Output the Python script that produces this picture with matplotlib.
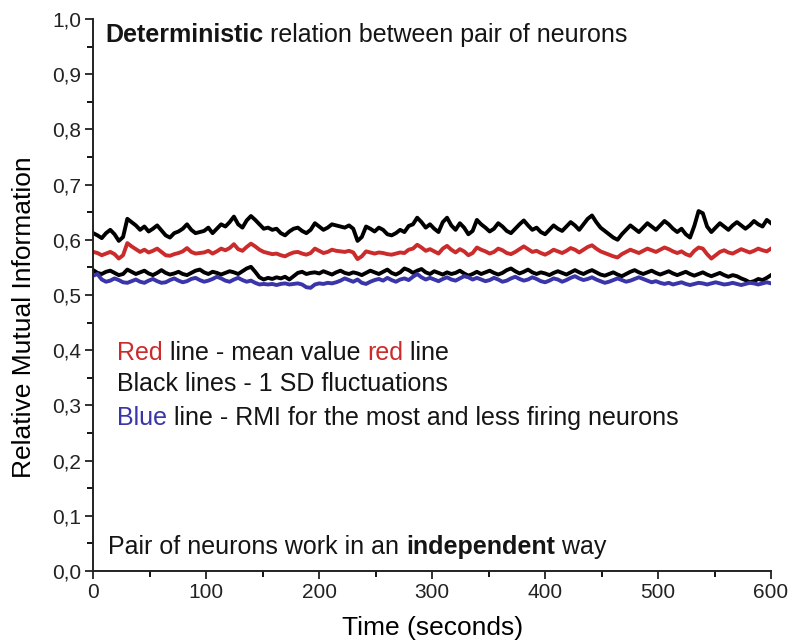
import numpy as np
import matplotlib.pyplot as plt
from matplotlib.ticker import MultipleLocator

# one reading every ~3.8 s over the 600 s recording
time_s = np.linspace(0, 600, 160)

upper_sd = [0.612, 0.608, 0.603, 0.612, 0.618, 0.610, 0.598, 0.605, 0.638, 0.632,
            0.626, 0.618, 0.624, 0.615, 0.620, 0.626, 0.617, 0.608, 0.604, 0.612,
            0.615, 0.620, 0.628, 0.618, 0.612, 0.614, 0.616, 0.622, 0.612, 0.620,
            0.628, 0.624, 0.632, 0.642, 0.628, 0.622, 0.635, 0.643, 0.636, 0.628,
            0.620, 0.622, 0.618, 0.620, 0.612, 0.608, 0.615, 0.620, 0.622, 0.616,
            0.612, 0.618, 0.630, 0.624, 0.618, 0.622, 0.628, 0.626, 0.624, 0.622,
            0.626, 0.620, 0.598, 0.605, 0.624, 0.620, 0.615, 0.622, 0.618, 0.610,
            0.608, 0.612, 0.618, 0.614, 0.625, 0.628, 0.640, 0.632, 0.622, 0.628,
            0.620, 0.614, 0.632, 0.640, 0.626, 0.618, 0.630, 0.622, 0.610, 0.616,
            0.636, 0.628, 0.622, 0.615, 0.620, 0.630, 0.624, 0.616, 0.612, 0.620,
            0.628, 0.635, 0.626, 0.618, 0.622, 0.614, 0.610, 0.618, 0.626, 0.620,
            0.616, 0.624, 0.632, 0.626, 0.618, 0.628, 0.638, 0.644, 0.632, 0.622,
            0.616, 0.610, 0.604, 0.600, 0.610, 0.618, 0.626, 0.620, 0.614, 0.622,
            0.630, 0.624, 0.618, 0.626, 0.634, 0.628, 0.620, 0.614, 0.620, 0.610,
            0.604, 0.625, 0.652, 0.648, 0.624, 0.614, 0.622, 0.630, 0.624, 0.618,
            0.626, 0.632, 0.626, 0.620, 0.626, 0.634, 0.628, 0.624, 0.636, 0.630]

mean_red = [0.578, 0.576, 0.572, 0.575, 0.578, 0.574, 0.566, 0.572, 0.594, 0.588,
            0.583, 0.578, 0.582, 0.577, 0.580, 0.584, 0.578, 0.572, 0.571, 0.574,
            0.576, 0.579, 0.585, 0.578, 0.575, 0.576, 0.577, 0.580, 0.575, 0.579,
            0.584, 0.581, 0.585, 0.592, 0.583, 0.580, 0.587, 0.593, 0.588, 0.582,
            0.578, 0.576, 0.574, 0.575, 0.572, 0.570, 0.574, 0.577, 0.578, 0.575,
            0.573, 0.576, 0.584, 0.580, 0.576, 0.578, 0.582, 0.580, 0.579, 0.578,
            0.580, 0.577, 0.565, 0.570, 0.579, 0.577, 0.575, 0.577, 0.576, 0.574,
            0.573, 0.575, 0.577, 0.576, 0.582, 0.584, 0.591, 0.586, 0.580, 0.583,
            0.579, 0.575, 0.584, 0.589, 0.582, 0.577, 0.583, 0.579, 0.572, 0.576,
            0.586, 0.582, 0.579, 0.575, 0.578, 0.584, 0.581, 0.576, 0.574, 0.578,
            0.583, 0.588, 0.583, 0.578, 0.580, 0.576, 0.573, 0.577, 0.582, 0.579,
            0.576, 0.580, 0.585, 0.582, 0.577, 0.582, 0.587, 0.590, 0.584, 0.579,
            0.576, 0.573, 0.570, 0.568, 0.574, 0.578, 0.582, 0.579, 0.576, 0.580,
            0.584, 0.581, 0.578, 0.582, 0.586, 0.583, 0.579, 0.576, 0.579, 0.574,
            0.571, 0.580, 0.586, 0.584, 0.574, 0.566, 0.572, 0.578, 0.581, 0.577,
            0.575, 0.579, 0.583, 0.580, 0.577, 0.580, 0.584, 0.581, 0.579, 0.584]

lower_sd = [0.545, 0.540, 0.538, 0.542, 0.544, 0.540, 0.536, 0.538, 0.546, 0.542,
            0.538, 0.541, 0.544, 0.539, 0.536, 0.540, 0.545, 0.540, 0.537, 0.539,
            0.542, 0.538, 0.536, 0.540, 0.544, 0.546, 0.541, 0.538, 0.542, 0.540,
            0.537, 0.540, 0.543, 0.541, 0.538, 0.543, 0.548, 0.551, 0.542, 0.532,
            0.528, 0.531, 0.529, 0.532, 0.530, 0.533, 0.528, 0.534, 0.540, 0.542,
            0.538, 0.540, 0.541, 0.539, 0.543, 0.540, 0.537, 0.541, 0.544, 0.540,
            0.538, 0.541, 0.539, 0.536, 0.540, 0.544, 0.541, 0.538, 0.542, 0.546,
            0.540, 0.537, 0.541, 0.548, 0.545, 0.540, 0.544, 0.547, 0.541, 0.538,
            0.543, 0.540, 0.537, 0.541, 0.538, 0.540, 0.544, 0.539, 0.535, 0.538,
            0.542, 0.538, 0.541, 0.544, 0.540, 0.537, 0.540, 0.545, 0.548, 0.543,
            0.539, 0.542, 0.546, 0.541, 0.538, 0.541, 0.539, 0.536, 0.540, 0.543,
            0.540, 0.537, 0.541, 0.545, 0.541, 0.538, 0.542, 0.545, 0.541, 0.537,
            0.535, 0.538, 0.541, 0.537, 0.534, 0.538, 0.542, 0.545, 0.541, 0.538,
            0.541, 0.544, 0.540, 0.537, 0.540, 0.543, 0.539, 0.536, 0.539, 0.542,
            0.538, 0.535, 0.538, 0.541, 0.537, 0.534, 0.537, 0.540, 0.536, 0.533,
            0.536, 0.534, 0.530, 0.527, 0.523, 0.525, 0.529, 0.527, 0.531, 0.536]

rmi_blue = [0.535, 0.538, 0.528, 0.524, 0.526, 0.530, 0.527, 0.523, 0.522, 0.525,
            0.528, 0.524, 0.522, 0.526, 0.529, 0.525, 0.522, 0.523, 0.527, 0.530,
            0.526, 0.523, 0.525, 0.529, 0.531, 0.527, 0.524, 0.526, 0.529, 0.533,
            0.530, 0.526, 0.524, 0.528, 0.531, 0.527, 0.524, 0.526, 0.522, 0.519,
            0.520, 0.519, 0.520, 0.518, 0.520, 0.521, 0.519, 0.520, 0.521, 0.519,
            0.514, 0.513, 0.519, 0.521, 0.520, 0.522, 0.521, 0.523, 0.526, 0.530,
            0.527, 0.524, 0.528, 0.522, 0.520, 0.524, 0.527, 0.529, 0.526, 0.531,
            0.527, 0.524, 0.528, 0.530, 0.527, 0.533, 0.538, 0.532, 0.528, 0.531,
            0.528, 0.525, 0.529, 0.532, 0.528, 0.526, 0.530, 0.534, 0.532, 0.528,
            0.531, 0.528, 0.525, 0.527, 0.531, 0.528, 0.524, 0.526, 0.530, 0.533,
            0.529, 0.526, 0.528, 0.532, 0.529, 0.525, 0.523, 0.526, 0.530, 0.528,
            0.524, 0.527, 0.531, 0.534, 0.530, 0.527, 0.529, 0.532, 0.528, 0.525,
            0.522, 0.524, 0.527, 0.530, 0.527, 0.524, 0.526, 0.529, 0.532, 0.529,
            0.526, 0.523, 0.525, 0.522, 0.520, 0.522, 0.519, 0.521, 0.523, 0.520,
            0.518, 0.520, 0.522, 0.521, 0.519, 0.521, 0.523, 0.521, 0.519, 0.520,
            0.522, 0.520, 0.518, 0.520, 0.522, 0.521, 0.519, 0.521, 0.523, 0.521]

x_ticks = [0, 100, 200, 300, 400, 500, 600]
y_ticks = [0.0, 0.1, 0.2, 0.3, 0.4, 0.5, 0.6, 0.7, 0.8, 0.9, 1.0]
y_tick_labels = ['0,0', '0,1', '0,2', '0,3', '0,4', '0,5', '0,6', '0,7', '0,8', '0,9', '1,0']

RED = '#cc2b2b'
BLUE = '#3a35a8'
INK = '#151515'
plt.rcParams['font.family'] = ['Liberation Sans Narrow', 'Liberation Sans', 'DejaVu Sans']

fig = plt.figure(figsize=(7.9, 6.43), dpi=100)
ax = fig.add_axes([0.118, 0.112, 0.858, 0.8585])

ax.plot(time_s, upper_sd, color='black', lw=2.8)
ax.plot(time_s, mean_red, color=RED, lw=2.8)
ax.plot(time_s, lower_sd, color='black', lw=2.8)
ax.plot(time_s, rmi_blue, color=BLUE, lw=2.8)

ax.set_xlim(0, 600)
ax.set_ylim(0, 1.0)
ax.set_xticks(x_ticks)
ax.set_yticks(y_ticks)
ax.set_yticklabels(y_tick_labels)
ax.xaxis.set_minor_locator(MultipleLocator(50))
ax.yaxis.set_minor_locator(MultipleLocator(0.05))
ax.tick_params(which='major', direction='out', length=6, width=1.3, labelsize=15,
               colors='#222222', pad=2.5)
ax.tick_params(which='minor', direction='out', length=4, width=1.3)
for side in ['top', 'right']:
    ax.spines[side].set_visible(False)
for side in ['left', 'bottom']:
    ax.spines[side].set_linewidth(1.4)
    ax.spines[side].set_color('#222222')

ax.set_xlabel('Time (seconds)', fontsize=19, labelpad=10)
ax.set_ylabel('Relative Mutual Information', fontsize=19)
ax.yaxis.set_label_coords(-0.085, 0.46)


def rich_line(x, y, parts, size):
    # parts: (text, colour, weight); each piece is chained to the end of the previous one
    prev = None
    for txt, col, wt in parts:
        if prev is None:
            prev = ax.text(x, y, txt, color=col, fontweight=wt, fontsize=size,
                           va='baseline', family=['Liberation Sans', 'DejaVu Sans'])
        else:
            prev = ax.annotate(txt, xy=(1, 0), xycoords=prev, va='bottom',
                               color=col, fontweight=wt, fontsize=size,
                               family=['Liberation Sans', 'DejaVu Sans'])


rich_line(10.5, 0.959, [('Deterministic', INK, 'bold'),
                        (' relation between pair of neurons', INK, 'normal')], 18)
rich_line(21, 0.382, [('Red', RED, 'normal'), (' line - mean value ', INK, 'normal'),
                      ('red', RED, 'normal'), (' line', INK, 'normal')], 18)
rich_line(21, 0.326, [('Black lines - 1 SD fluctuations', INK, 'normal')], 18)
rich_line(21, 0.264, [('Blue', BLUE, 'normal'),
                      (' line - RMI for the most and less firing neurons', INK, 'normal')], 18)
rich_line(13, 0.030, [('Pair of neurons work in an ', INK, 'normal'),
                      ('independent', INK, 'bold'), (' way', INK, 'normal')], 18)

fig.savefig('out.png', dpi=100)
